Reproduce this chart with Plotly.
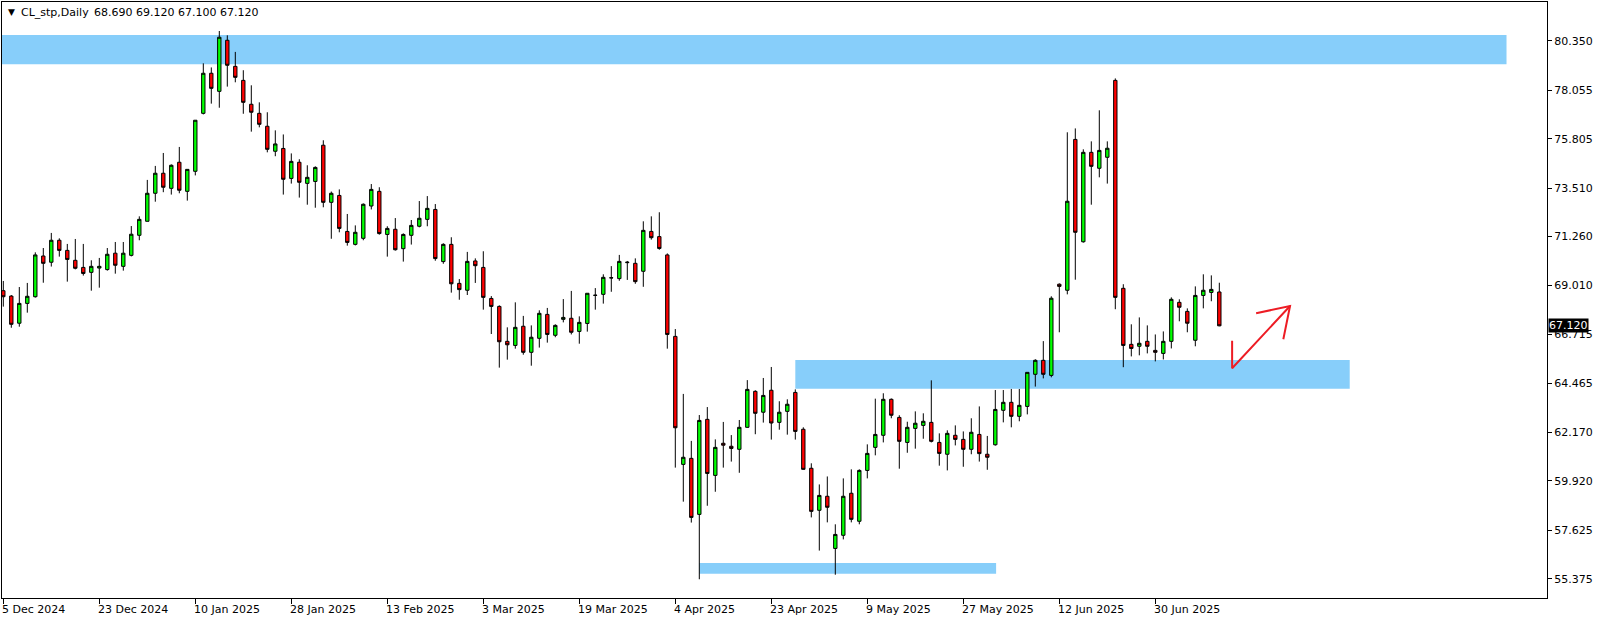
import plotly.graph_objects as go

# ---- data ----
opens = [68.75, 68.50, 67.24, 68.16, 68.47, 70.36, 70.07, 71.09, 70.62, 70.16,
         69.83, 69.60, 69.80, 69.73, 70.49, 69.88, 70.39, 71.32, 71.97, 73.27,
         74.20, 73.50, 74.71, 73.36, 74.29, 76.98, 78.84, 78.00, 80.37, 79.16,
         78.51, 77.40, 76.98, 76.38, 75.22, 75.35, 73.96, 74.71, 73.73, 73.82,
         75.50, 72.85, 73.17, 71.50, 70.90, 71.18, 72.68, 73.36, 71.36, 71.60,
         70.70, 71.32, 71.74, 72.06, 72.52, 70.10, 70.90, 69.09, 68.77, 70.13,
         69.83, 68.39, 68.02, 66.40, 66.21, 67.10, 65.89, 66.54, 67.65, 66.68,
         67.42, 67.47, 66.86, 67.23, 68.53, 68.58, 69.34, 69.31, 70.05, 70.02,
         69.65, 71.50, 71.26, 70.41, 66.63, 60.69, 60.97, 58.37, 62.78, 60.18,
         61.67, 61.53, 61.39, 62.41, 64.08, 63.11, 64.13, 62.64, 63.15, 64.03,
         62.32, 60.51, 58.56, 59.21, 56.79, 57.40, 59.35, 58.05, 60.41, 61.48,
         62.04, 63.71, 62.87, 61.71, 62.36, 62.50, 62.64, 61.71, 61.16, 62.04,
         61.85, 61.39, 62.08, 61.16, 61.60, 63.20, 63.57, 62.92, 63.38, 64.87,
         65.52, 64.82, 69.05, 68.77, 75.77, 71.02, 75.17, 74.43, 74.94, 78.51,
         68.86, 66.26, 66.17, 66.40, 65.98, 65.84, 66.40, 68.21, 67.79, 66.45,
         68.53, 68.67, 68.69]
highs = [69.20, 68.55, 68.92, 69.11, 70.53, 70.73, 71.43, 71.18, 70.92, 71.15,
         70.92, 70.16, 70.27, 70.73, 71.01, 71.01, 71.75, 72.20, 73.89, 74.54,
         75.14, 74.61, 75.42, 74.38, 76.66, 79.30, 79.11, 80.80, 80.60, 79.83,
         78.98, 78.28, 77.49, 77.03, 76.19, 76.00, 75.12, 74.85, 74.57, 74.52,
         75.73, 73.35, 73.45, 72.31, 71.78, 72.80, 73.70, 73.55, 71.74, 72.12,
         71.41, 72.03, 72.91, 73.14, 72.77, 70.95, 71.23, 69.29, 70.55, 70.25,
         70.58, 68.50, 68.07, 67.05, 68.21, 67.58, 67.14, 67.84, 67.95, 67.19,
         68.36, 68.74, 67.56, 68.63, 68.87, 69.51, 69.89, 70.41, 70.13, 70.25,
         71.97, 72.20, 72.39, 70.48, 66.97, 63.96, 61.78, 62.98, 63.35, 61.85,
         62.66, 62.05, 62.75, 64.60, 64.13, 64.70, 65.21, 63.62, 63.71, 64.17,
         62.41, 60.74, 59.76, 60.13, 57.91, 60.04, 60.46, 60.46, 61.62, 63.74,
         63.99, 63.75, 62.97, 62.67, 63.15, 63.06, 64.59, 62.13, 62.27, 62.50,
         62.22, 62.83, 63.38, 62.01, 64.14, 64.14, 64.19, 64.19, 64.96, 65.57,
         66.41, 68.49, 69.09, 76.10, 76.28, 75.31, 75.68, 77.12, 75.68, 78.60,
         69.05, 67.19, 67.51, 67.14, 66.72, 66.86, 68.44, 68.35, 67.93, 68.95,
         69.51, 69.46, 69.12]
lows = [68.01, 67.03, 67.08, 67.73, 68.43, 69.12, 69.87, 70.33, 69.17, 69.74,
        69.45, 68.75, 68.89, 69.68, 69.54, 69.68, 70.34, 71.09, 71.97, 72.88,
        73.32, 73.21, 73.27, 72.93, 74.10, 76.93, 77.43, 77.24, 78.22, 78.42,
        76.96, 76.13, 76.33, 75.17, 74.99, 73.21, 73.72, 73.07, 72.74, 72.60,
        72.62, 71.16, 71.46, 70.84, 70.85, 71.09, 72.52, 71.35, 70.33, 70.61,
        70.10, 70.89, 71.69, 71.74, 70.14, 70.00, 68.66, 68.33, 68.55, 69.11,
        67.87, 66.74, 65.18, 65.55, 66.06, 65.78, 65.27, 66.11, 66.34, 66.59,
        67.28, 66.72, 66.29, 66.85, 67.87, 68.15, 68.70, 69.21, 69.25, 69.07,
        68.93, 71.12, 70.65, 66.06, 60.54, 58.96, 57.99, 55.36, 58.77, 59.42,
        60.54, 60.82, 60.30, 62.39, 62.09, 62.63, 61.84, 62.30, 62.07, 61.84,
        60.44, 58.23, 56.69, 58.00, 55.57, 57.21, 58.00, 57.91, 60.04, 61.11,
        61.71, 62.83, 60.49, 61.23, 61.42, 61.88, 61.71, 60.63, 60.41, 61.57,
        60.58, 61.16, 60.82, 60.44, 61.56, 62.64, 62.41, 62.69, 63.01, 64.30,
        64.68, 64.73, 66.82, 68.58, 69.26, 70.98, 72.74, 74.01, 73.72, 67.89,
        65.20, 65.70, 65.75, 65.84, 65.47, 65.56, 66.07, 67.33, 66.82, 66.17,
        67.93, 68.26, 67.10]
closes = [68.47, 67.19, 68.16, 68.49, 70.41, 70.02, 71.09, 70.62, 70.20, 69.79,
          69.55, 69.88, 69.88, 70.44, 69.93, 70.49, 71.37, 72.06, 73.27, 74.20,
          73.55, 74.57, 73.41, 74.38, 76.66, 78.84, 78.14, 80.51, 79.21, 78.65,
          77.49, 77.03, 76.47, 75.31, 75.56, 73.92, 74.75, 73.78, 74.01, 74.47,
          72.85, 73.27, 71.64, 70.99, 71.46, 72.76, 73.45, 71.40, 71.64, 70.65,
          71.36, 71.78, 72.11, 72.57, 70.24, 70.90, 69.07, 68.80, 70.11, 69.91,
          68.44, 68.02, 66.38, 66.24, 67.05, 65.89, 66.59, 67.70, 66.72, 67.14,
          67.51, 66.82, 67.28, 68.63, 68.54, 69.37, 69.35, 70.11, 70.07, 69.17,
          71.55, 71.21, 70.71, 66.72, 62.39, 61.02, 58.23, 62.73, 60.27, 61.48,
          61.58, 61.43, 62.41, 64.17, 63.06, 63.89, 62.61, 63.11, 63.48, 62.22,
          60.46, 58.51, 59.25, 58.70, 57.44, 59.21, 58.14, 60.41, 61.20, 62.08,
          63.71, 62.97, 61.76, 62.41, 62.60, 62.69, 61.76, 61.20, 62.13, 61.85,
          61.39, 62.18, 61.19, 61.02, 63.24, 63.57, 62.92, 63.43, 64.96, 65.52,
          64.87, 68.40, 68.95, 72.90, 71.46, 75.17, 74.52, 75.26, 75.36, 68.44,
          66.21, 66.07, 66.31, 66.17, 65.89, 66.40, 68.35, 67.98, 67.24, 68.53,
          68.77, 68.81, 67.12]

date_tick_idx = [0, 12, 24, 36, 48, 60, 72, 84, 96, 108, 120, 132, 144]
date_tick_text = ["5 Dec 2024", "23 Dec 2024", "10 Jan 2025", "28 Jan 2025",
                  "13 Feb 2025", "3 Mar 2025", "19 Mar 2025", "4 Apr 2025",
                  "23 Apr 2025", "9 May 2025", "27 May 2025", "12 Jun 2025",
                  "30 Jun 2025"]
price_ticks = [55.375, 57.625, 59.920, 62.170, 64.465, 66.715,
               69.010, 71.260, 73.510, 75.805, 78.055, 80.350]

symbol_title = "CL_stp,Daily"
last_bar = [68.690, 69.120, 67.100, 67.120]

# drawn zones: (start index, end index, low price, high price)
zone_start = [-3, 99, 87]
zone_end = [187.9, 168.3, 124.1]
zone_low = [79.255, 64.20, 55.62]
zone_high = [80.615, 65.53, 56.11]

# hand-drawn red arrow (index, price)
arrow_x = [153.6, 153.6, 160.84]
arrow_y = [66.43, 65.15, 68.04]
arrow_head_x = [156.6, 160.84, 160.0]
arrow_head_y = [67.70, 68.04, 66.50]

idx = list(range(len(opens)))
FONT = "DejaVu Sans"

fig = go.Figure()
fig.add_trace(go.Candlestick(
    x=idx, open=opens, high=highs, low=lows, close=closes,
    increasing=dict(fillcolor="#00FF00", line=dict(color="black", width=1)),
    decreasing=dict(fillcolor="#FF0000", line=dict(color="black", width=1)),
    whiskerwidth=0, hoverinfo="skip", showlegend=False,
))
fig.add_trace(go.Scatter(x=arrow_x, y=arrow_y, mode="lines",
                         line=dict(color="#ED1C24", width=2),
                         hoverinfo="skip", showlegend=False))
fig.add_trace(go.Scatter(x=arrow_head_x, y=arrow_head_y, mode="lines",
                         line=dict(color="#ED1C24", width=2),
                         hoverinfo="skip", showlegend=False))

shapes = []
for x0, x1, y0, y1 in zip(zone_start, zone_end, zone_low, zone_high):
    shapes.append(dict(type="rect", xref="x", yref="y", x0=x0, x1=x1,
                       y0=y0, y1=y1, fillcolor="#87CEFA",
                       line=dict(width=0), layer="below"))

annotations = []
for ti, tt in zip(date_tick_idx, date_tick_text):
    annotations.append(dict(x=ti, y=0, xref="x", yref="paper", text=tt,
                            showarrow=False, xanchor="left", yanchor="middle",
                            xshift=-3, yshift=-11,
                            font=dict(family=FONT, size=11, color="black")))
annotations.append(dict(x=0, y=1, xref="paper", yref="paper", text="▼",
                        showarrow=False, xanchor="center", yanchor="middle",
                        xshift=9, yshift=-10,
                        font=dict(family=FONT, size=9, color="black")))
annotations.append(dict(x=0, y=1, xref="paper", yref="paper", text=symbol_title,
                        showarrow=False, xanchor="left", yanchor="middle",
                        xshift=17, yshift=-10,
                        font=dict(family=FONT, size=11, color="black")))
annotations.append(dict(x=0, y=1, xref="paper", yref="paper",
                        text=" ".join(f"{v:.3f}" for v in last_bar),
                        showarrow=False, xanchor="left", yanchor="middle",
                        xshift=90, yshift=-10,
                        font=dict(family=FONT, size=11, color="black")))
annotations.append(dict(x=1, y=closes[-1], xref="paper", yref="y",
                        text=f"{closes[-1]:.3f}", showarrow=False,
                        xanchor="left", yanchor="middle", xshift=1,
                        bgcolor="black", borderpad=0,
                        font=dict(family=FONT, size=11, color="white")))

fig.update_layout(
    width=1604, height=622,
    margin=dict(l=2, r=57, t=2, b=24),
    paper_bgcolor="white", plot_bgcolor="white",
    boxgap=0.4,
    hovermode=False,
    shapes=shapes,
    annotations=annotations,
    xaxis=dict(range=[-0.1625, 192.96], rangeslider=dict(visible=False),
               showgrid=False, zeroline=False, showline=True, mirror=True,
               linecolor="black", linewidth=1,
               tickmode="array", tickvals=date_tick_idx, showticklabels=False,
               ticks="outside", ticklen=5, tickcolor="black"),
    yaxis=dict(range=[54.490, 82.146], side="right",
               showgrid=False, zeroline=False, showline=True, mirror=True,
               linecolor="black", linewidth=1,
               tickmode="array", tickvals=price_ticks,
               ticktext=[f"{v:.3f}" for v in price_ticks],
               ticks="outside", ticklen=4, tickcolor="black",
               tickfont=dict(family=FONT, size=11, color="black")),
)

fig.write_html(
    "out.html",
    config={"displayModeBar": False},
    post_script="document.body.style.margin='0px';document.body.style.overflow='hidden';",
)
